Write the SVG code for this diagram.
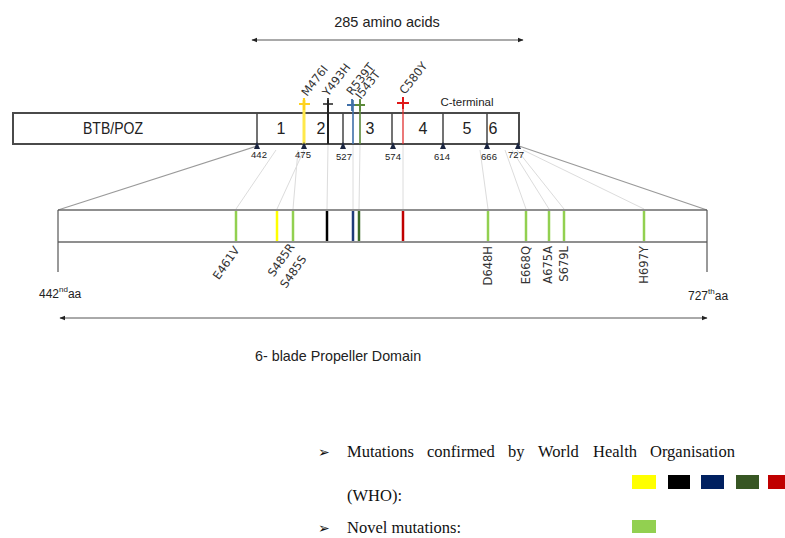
<svg xmlns="http://www.w3.org/2000/svg" width="785" height="538" viewBox="0 0 785 538">
<defs>
<marker id="ah" viewBox="0 0 10 10" refX="9" refY="5" markerWidth="6" markerHeight="6" orient="auto-start-reverse" markerUnits="userSpaceOnUse"><path d="M0,1 L10,5 L0,9 z" fill="#222"/></marker>
<path id="tri" d="M-3,4 L0,-3 L3,4 z" fill="#1a2540"/>
</defs>
<style>
.sans{font-family:"Liberation Sans",Arial,sans-serif;fill:#222}
.dv{font-family:"DejaVu Sans",Verdana,sans-serif;fill:#333;font-size:11.5px}
.serif{font-family:"Liberation Serif","Times New Roman",serif;font-size:16.5px;fill:#111}
.bar{fill:#fff;stroke:#4a4a4a;stroke-width:2}
.div{stroke:#444;stroke-width:1.5}
.faint{stroke:#dcdcdc;stroke-width:1;fill:none}
.outer{stroke:#9a9a9a;stroke-width:1.2;fill:none}
.num{font-family:"Liberation Sans",Arial,sans-serif;font-size:9.5px;fill:#222;text-anchor:middle}
.bul{font-family:"DejaVu Sans",sans-serif;font-size:14px;fill:#111}
</style>
<rect width="785" height="538" fill="#fff"/>

<g id="connectors">
<line x1="252" y1="40" x2="523" y2="40" stroke="#555" stroke-width="1" marker-start="url(#ah)" marker-end="url(#ah)"/>
<line x1="60" y1="318" x2="707" y2="318" stroke="#555" stroke-width="1" marker-start="url(#ah)" marker-end="url(#ah)"/>
<line class="outer" x1="257" y1="146" x2="58" y2="210"/>
<line class="outer" x1="519" y1="146" x2="707" y2="210"/>
<line class="faint" x1="276" y1="150" x2="236" y2="209"/>
<line class="faint" x1="304" y1="150" x2="277" y2="209"/>
<line class="faint" x1="298" y1="150" x2="293" y2="209"/>
<line class="faint" x1="328" y1="145" x2="327" y2="209"/>
<line class="faint" x1="353" y1="145" x2="353" y2="209"/>
<line class="faint" x1="360" y1="145" x2="359" y2="209"/>
<line class="faint" x1="403" y1="145" x2="403" y2="209"/>
<line class="faint" x1="480" y1="150" x2="488" y2="209"/>
<line class="faint" x1="505" y1="150" x2="526" y2="209"/>
<line class="faint" x1="512" y1="150" x2="549" y2="209"/>
<line class="faint" x1="517" y1="150" x2="564" y2="209"/>
<line class="faint" x1="523" y1="150" x2="644" y2="209"/>
</g>

<g id="title">
<text class="sans" x="387" y="27" font-size="14.5" text-anchor="middle">285 amino acids</text>
</g>

<g id="top-bar">
<rect class="bar" x="13" y="113" width="506" height="31"/>
<line class="div" x1="257" y1="113" x2="257" y2="144"/>
<line class="div" x1="343" y1="113" x2="343" y2="144"/>
<line class="div" x1="392" y1="113" x2="392" y2="144"/>
<line class="div" x1="443" y1="113" x2="443" y2="144"/>
<line class="div" x1="487" y1="113" x2="487" y2="144"/>
<text class="sans" x="113" y="134" font-size="16" text-anchor="middle" textLength="60" lengthAdjust="spacingAndGlyphs">BTB/POZ</text>
<text class="sans" x="281" y="134" font-size="16" text-anchor="middle">1</text>
<text class="sans" x="321" y="134" font-size="16" text-anchor="middle">2</text>
<text class="sans" x="370" y="134" font-size="16" text-anchor="middle">3</text>
<text class="sans" x="423" y="134" font-size="16" text-anchor="middle">4</text>
<text class="sans" x="467" y="134" font-size="16" text-anchor="middle">5</text>
<text class="sans" x="493" y="134" font-size="16" text-anchor="middle">6</text>
<text class="sans" x="467" y="106" font-size="11.5" text-anchor="middle">C-terminal</text>
</g>

<g id="top-mutations">
<line x1="304" y1="100" x2="304" y2="144" stroke="#ffe84a" stroke-width="3"/>
<line x1="328" y1="100" x2="328" y2="144" stroke="#222" stroke-width="2"/>
<line x1="353" y1="100" x2="353" y2="144" stroke="#3f6fa8" stroke-width="1.6"/>
<line x1="360" y1="100" x2="360" y2="144" stroke="#5b8a3a" stroke-width="1.6"/>
<line x1="403" y1="98" x2="403" y2="144" stroke="#e03030" stroke-width="1.3"/>
<path d="M299,104 h11 M304,98 v12" stroke="#ffd21f" stroke-width="2.2"/>
<path d="M323,104 h10 M328,98 v12" stroke="#222" stroke-width="1.6"/>
<path d="M347,105 h11 M352,99 v12" stroke="#3f6fa8" stroke-width="1.8"/>
<path d="M355,105 h10 M360,99 v12" stroke="#5b8a3a" stroke-width="1.8"/>
<path d="M397,103 h12 M403,97 v12" stroke="#e01818" stroke-width="2"/>
<text class="dv" transform="translate(307,97) rotate(-52)">M476I</text>
<text class="dv" transform="translate(328,97) rotate(-52)">Y493H</text>
<text class="dv" transform="translate(352,96) rotate(-52)">R539T</text>
<text class="dv" transform="translate(361,100) rotate(-52)">I543T</text>
<text class="dv" transform="translate(405,95) rotate(-52)">C580Y</text>
</g>

<g id="ticks">
<use href="#tri" x="257" y="145"/><text class="num" x="259" y="158">442</text>
<use href="#tri" x="304" y="145"/><text class="num" x="303" y="158">475</text>
<use href="#tri" x="343" y="145"/><text class="num" x="344" y="160">527</text>
<use href="#tri" x="393" y="145"/><text class="num" x="393" y="160">574</text>
<use href="#tri" x="443" y="145"/><text class="num" x="442" y="160">614</text>
<use href="#tri" x="487" y="145"/><text class="num" x="489" y="160">666</text>
<use href="#tri" x="518" y="145"/><text class="num" x="516" y="158">727</text>
</g>

<g id="bottom-bar">
<line x1="58" y1="210" x2="707" y2="210" stroke="#6a6a6a" stroke-width="1.5"/>
<line x1="58" y1="242" x2="707" y2="242" stroke="#6a6a6a" stroke-width="1.5"/>
<line x1="58" y1="210" x2="58" y2="272" stroke="#555" stroke-width="1.2"/>
<line x1="707" y1="210" x2="707" y2="272" stroke="#555" stroke-width="1.2"/>
<g stroke-width="2.5">
<line x1="236" y1="211" x2="236" y2="241" stroke="#92d050"/>
<line x1="277" y1="211" x2="277" y2="241" stroke="#ffff00"/>
<line x1="293" y1="211" x2="293" y2="241" stroke="#92d050"/>
<line x1="327" y1="211" x2="327" y2="241" stroke="#000"/>
<line x1="353" y1="211" x2="353" y2="241" stroke="#1f3a7a"/>
<line x1="359" y1="211" x2="359" y2="241" stroke="#3d6b2a"/>
<line x1="403" y1="211" x2="403" y2="241" stroke="#c00000"/>
<line x1="488" y1="211" x2="488" y2="241" stroke="#92d050"/>
<line x1="526" y1="211" x2="526" y2="241" stroke="#92d050"/>
<line x1="549" y1="211" x2="549" y2="241" stroke="#92d050"/>
<line x1="564" y1="211" x2="564" y2="241" stroke="#92d050"/>
<line x1="644" y1="211" x2="644" y2="241" stroke="#92d050"/>
</g>
<text class="dv" font-size="11" text-anchor="end" transform="translate(240,250) rotate(-55)">E461V</text>
<text class="dv" font-size="11" text-anchor="end" transform="translate(295,247) rotate(-55)">S485R</text>
<text class="dv" font-size="11" text-anchor="end" transform="translate(307,259) rotate(-55)">S485S</text>
<text class="dv" font-size="11" text-anchor="end" transform="translate(492,246) rotate(-90)">D648H</text>
<text class="dv" font-size="11" text-anchor="end" transform="translate(530,246) rotate(-90)">E668Q</text>
<text class="dv" font-size="11" text-anchor="end" transform="translate(552,246) rotate(-90)">A675A</text>
<text class="dv" font-size="11" text-anchor="end" transform="translate(568,246) rotate(-90)">S679L</text>
<text class="dv" font-size="11" text-anchor="end" transform="translate(648,246) rotate(-90)">H697Y</text>
<text class="sans" x="39" y="298" font-size="12">442<tspan font-size="8" dy="-6">nd</tspan><tspan dy="6">aa</tspan></text>
<text class="sans" x="688" y="300" font-size="12">727<tspan font-size="8" dy="-6">th</tspan><tspan dy="6">aa</tspan></text>
<text class="sans" x="255" y="361" font-size="14.3">6- blade Propeller Domain</text>
</g>

<g id="legend">
<text class="bul" x="318" y="457">➢</text>
<text class="serif" y="457"><tspan x="347">Mutations</tspan><tspan x="427">confirmed</tspan><tspan x="508">by</tspan><tspan x="538">World</tspan><tspan x="593">Health</tspan><tspan x="650">Organisation</tspan></text>
<text class="serif" x="347" y="501">(WHO):</text>
<text class="bul" x="318" y="533">➢</text>
<text class="serif" x="347" y="533">Novel mutations:</text>
<rect x="632" y="475" width="24" height="14" fill="#ffff00"/>
<rect x="668" y="475" width="22" height="14" fill="#000"/>
<rect x="701" y="475" width="23" height="14" fill="#002060"/>
<rect x="736" y="475" width="23" height="14" fill="#375623"/>
<rect x="768" y="475" width="23" height="14" fill="#c00000"/>
<rect x="632" y="520" width="24" height="13" fill="#92d050"/>
</g>
</svg>
